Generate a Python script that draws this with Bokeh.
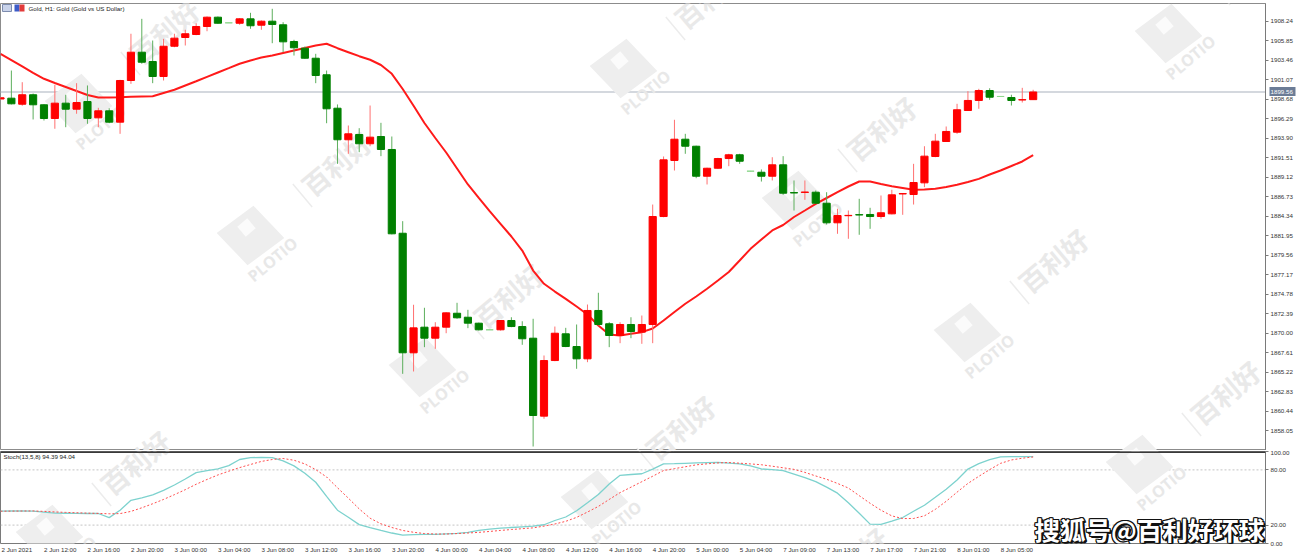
import math
import numpy as np
from bokeh.plotting import figure
from bokeh.layouts import column
from bokeh.models import (ColumnDataSource, FixedTicker, PrintfTickFormatter,
                          Range1d, Span, Label, LinearAxis)
from bokeh.core.properties import value
from bokeh.embed import file_html
from bokeh.resources import INLINE

# ---------------- data (H1 bars, Gold vs US Dollar) ----------------
opens = [1898.70, 1898.80, 1898.06, 1899.22, 1897.99, 1896.31, 1898.19, 1897.45, 1898.39, 1896.39,
         1897.25, 1895.86, 1900.97, 1904.44, 1903.30, 1901.46, 1905.17, 1906.24, 1906.61, 1907.59,
         1908.73, 1908.04, 1907.99, 1908.53, 1907.75, 1908.24, 1907.80, 1905.75, 1904.93, 1903.70,
         1901.67, 1897.57, 1893.70, 1894.35, 1893.21, 1894.10, 1892.51, 1882.24, 1867.58, 1870.72,
         1869.37, 1870.72, 1872.43, 1871.94, 1871.21, 1870.40, 1870.40, 1871.54, 1870.80, 1869.37,
         1859.81, 1866.63, 1869.91, 1868.35, 1866.84, 1872.77, 1871.14, 1869.70, 1871.05, 1870.11,
         1871.05, 1884.29, 1891.16, 1893.77, 1892.91, 1889.23, 1890.21, 1891.40, 1891.86, 1889.85,
         1889.72, 1889.23, 1890.63, 1887.22, 1887.25, 1887.27, 1885.92, 1883.52, 1884.39, 1884.52,
         1884.54, 1884.29, 1884.62, 1887.06, 1886.99, 1888.42, 1891.65, 1893.49, 1894.63, 1897.29,
         1898.52, 1899.74, 1899.01, 1898.88, 1898.58, 1898.62]
highs = [1898.95, 1902.19, 1900.76, 1899.37, 1898.05, 1900.44, 1899.22, 1900.64, 1900.36, 1897.62,
         1897.57, 1901.05, 1906.70, 1908.53, 1905.87, 1906.08, 1906.70, 1907.19, 1907.99, 1908.82,
         1908.82, 1908.06, 1908.61, 1909.27, 1908.33, 1909.76, 1908.12, 1905.96, 1905.14, 1904.24,
         1902.19, 1898.03, 1895.45, 1895.12, 1897.90, 1895.78, 1894.10, 1883.72, 1873.47, 1873.10,
         1871.33, 1872.55, 1873.71, 1872.85, 1871.28, 1870.44, 1871.60, 1871.94, 1871.45, 1871.75,
         1867.25, 1870.80, 1870.64, 1871.05, 1873.50, 1874.94, 1871.33, 1871.33, 1871.94, 1872.15,
         1885.76, 1891.65, 1896.15, 1894.43, 1892.98, 1890.28, 1891.49, 1891.98, 1891.98, 1889.88,
         1890.06, 1891.56, 1891.69, 1888.71, 1888.71, 1887.48, 1887.27, 1885.24, 1885.03, 1886.46,
         1885.36, 1886.87, 1887.57, 1887.15, 1890.75, 1892.91, 1894.43, 1895.33, 1898.11, 1899.66,
         1899.95, 1900.02, 1899.04, 1899.22, 1900.07, 1899.83]
lows = [1898.65, 1898.03, 1897.87, 1896.19, 1896.06, 1895.05, 1895.24, 1896.89, 1895.66, 1895.24,
        1895.73, 1894.43, 1900.56, 1903.02, 1900.64, 1900.97, 1905.05, 1905.26, 1906.52, 1907.01,
        1907.92, 1908.02, 1907.80, 1907.31, 1907.19, 1905.54, 1904.44, 1904.03, 1903.63, 1900.64,
        1895.73, 1890.75, 1891.98, 1892.18, 1892.91, 1891.69, 1882.10, 1865.00, 1865.29, 1868.27,
        1868.07, 1869.98, 1871.75, 1870.60, 1870.31, 1870.38, 1870.31, 1870.72, 1868.56, 1856.09,
        1859.49, 1866.55, 1868.27, 1865.62, 1866.43, 1870.93, 1868.27, 1868.76, 1869.37, 1868.68,
        1868.76, 1884.20, 1889.93, 1891.98, 1888.99, 1888.22, 1890.14, 1890.46, 1890.75, 1889.83,
        1888.58, 1888.71, 1886.95, 1885.03, 1886.34, 1885.85, 1883.31, 1882.17, 1881.56, 1882.05,
        1882.78, 1884.01, 1884.55, 1884.50, 1885.76, 1887.89, 1891.56, 1893.45, 1894.43, 1897.25,
        1897.50, 1898.60, 1898.99, 1897.90, 1898.27, 1898.58]
closes = [1898.85, 1898.11, 1899.22, 1897.99, 1896.31, 1898.19, 1897.45, 1898.27, 1896.31, 1897.25,
          1895.86, 1900.97, 1904.44, 1903.21, 1901.46, 1905.17, 1906.16, 1906.70, 1907.59, 1908.73,
          1907.99, 1908.04, 1908.53, 1907.68, 1908.24, 1907.84, 1905.71, 1904.98, 1903.70, 1901.58,
          1897.50, 1893.70, 1894.43, 1893.21, 1894.02, 1892.51, 1882.17, 1867.58, 1870.64, 1869.37,
          1870.72, 1872.48, 1871.87, 1871.21, 1870.40, 1870.40, 1871.54, 1870.80, 1869.30, 1859.89,
          1866.63, 1869.98, 1868.35, 1866.84, 1872.77, 1871.05, 1869.70, 1871.05, 1870.19, 1871.05,
          1884.29, 1891.24, 1893.77, 1892.91, 1889.23, 1890.21, 1891.40, 1891.86, 1891.07, 1889.85,
          1889.23, 1890.63, 1887.15, 1887.18, 1887.29, 1885.92, 1883.52, 1884.41, 1884.43, 1884.48,
          1884.29, 1884.75, 1886.95, 1887.10, 1888.46, 1891.69, 1893.53, 1894.72, 1897.38, 1898.52,
          1899.74, 1898.92, 1899.01, 1898.52, 1898.62, 1899.56]
ma_values = [1904.24, 1903.47, 1902.69, 1901.91, 1901.18, 1900.66, 1900.17, 1899.68, 1899.19, 1898.88,
             1898.88, 1898.92, 1898.97, 1899.01, 1899.04, 1899.44, 1899.83, 1900.36, 1900.88, 1901.42,
             1901.95, 1902.48, 1903.02, 1903.42, 1903.79, 1904.03, 1904.34, 1904.65, 1904.95, 1905.26,
             1905.47, 1904.93, 1904.44, 1903.95, 1903.51, 1902.87, 1901.79, 1899.93, 1897.88, 1895.76,
             1893.92, 1892.14, 1890.18, 1888.22, 1886.57, 1884.95, 1883.40, 1881.84, 1880.12, 1877.67,
             1876.04, 1875.09, 1874.20, 1873.26, 1872.28, 1870.93, 1869.82, 1869.70, 1869.91, 1870.11,
             1870.56, 1871.54, 1872.58, 1873.59, 1874.48, 1875.43, 1876.44, 1877.49, 1878.90, 1880.33,
             1881.47, 1882.58, 1883.25, 1884.23, 1885.03, 1885.85, 1886.56, 1887.27, 1887.97, 1888.58,
             1888.58, 1888.28, 1888.01, 1887.79, 1887.57, 1887.60, 1887.69, 1887.91, 1888.18, 1888.52,
             1888.91, 1889.44, 1889.93, 1890.48, 1891.04, 1891.83]
stoch_k = [35.1, 35.3, 35.3, 35.1, 34.0, 33.1, 32.9, 32.7, 32.6, 32.6,
           28.1, 36.2, 46.9, 49.6, 52.9, 57.7, 63.6, 70.1, 77.1, 79.3,
           81.2, 84.7, 91.3, 93.3, 93.6, 93.3, 89.8, 84.4, 76.4, 66.6,
           51.3, 36.2, 28.6, 20.5, 17.3, 14.3, 11.4, 9.2, 9.7, 10.0,
           10.0, 10.5, 10.9, 12.2, 14.3, 15.6, 16.7, 17.4, 18.1, 18.8,
           20.4, 25.0, 28.8, 35.6, 44.2, 53.2, 64.7, 74.1, 75.0, 75.8,
           80.9, 86.5, 86.8, 87.2, 87.6, 87.9, 88.2, 87.3, 86.6, 84.3,
           81.0, 80.3, 79.2, 75.4, 71.6, 67.2, 61.3, 54.7, 44.2, 32.9,
           21.1, 20.8, 24.3, 28.2, 35.1, 41.6, 50.2, 59.0, 69.0, 80.9,
           86.9, 91.1, 94.2, 94.4, 94.4, 94.39]
stoch_d = [35.1, 35.2, 35.3, 35.4, 34.9, 34.3, 33.8, 33.4, 33.0, 32.7,
           32.3, 32.5, 34.9, 38.8, 43.2, 47.9, 53.1, 58.5, 64.4, 69.6,
           74.5, 78.6, 82.5, 85.9, 89.2, 91.3, 92.4, 90.5, 86.5, 80.3,
           72.3, 60.6, 49.3, 37.6, 27.5, 21.4, 17.4, 14.2, 12.2, 10.8,
           10.3, 10.3, 10.8, 11.4, 12.1, 13.1, 14.2, 15.2, 16.1, 17.0,
           18.9, 21.2, 24.1, 28.4, 34.2, 40.3, 47.9, 55.3, 61.2, 67.2,
           73.1, 79.3, 81.4, 83.4, 85.5, 86.6, 87.6, 88.0, 87.3, 86.5,
           85.6, 84.0, 82.3, 80.6, 77.3, 73.4, 69.8, 65.3, 60.3, 52.0,
           43.7, 36.2, 30.0, 27.1, 27.2, 30.1, 37.1, 45.9, 55.8, 65.3,
           73.0, 80.3, 87.1, 90.8, 92.7, 94.04]
price_ticks = [1858.05, 1860.44, 1862.83, 1865.22, 1867.61, 1870.00, 1872.39, 1874.78,
               1877.17, 1879.56, 1881.95, 1884.34, 1886.73, 1889.12, 1891.51, 1893.90,
               1896.29, 1898.68, 1901.07, 1903.46, 1905.85, 1908.24]
stoch_ticks = [0, 20, 80, 100]
stoch_levels = [80, 20]
time_tick_bars = list(range(0, 96, 4))
time_tick_labels = ["2 Jun 2021", "2 Jun 12:00", "2 Jun 16:00", "2 Jun 20:00", "3 Jun 00:00",
                    "3 Jun 04:00", "3 Jun 08:00", "3 Jun 12:00", "3 Jun 16:00", "3 Jun 20:00",
                    "4 Jun 00:00", "4 Jun 04:00", "4 Jun 08:00", "4 Jun 12:00", "4 Jun 16:00",
                    "4 Jun 20:00", "5 Jun 00:00", "5 Jun 04:00", "7 Jun 09:00", "7 Jun 13:00",
                    "7 Jun 17:00", "7 Jun 21:00", "8 Jun 01:00", "8 Jun 05:00"]
last_price = 1899.56
title_text = "Gold, H1:  Gold (Gold vs US Dollar)"
stoch_text = "Stoch(13,5,8) 94.39 94.04"
brand_text = "搜狐号@百利好环球"

# ---------------- layout constants ----------------
BAR_PX = 10.87
FRAME_W = 1265
MAIN_H = 450
MAIN_TOP = 3
P_LO, P_HI = 1855.60, 1910.41
ST_H = 107
ST_TOP = 1
ST_BOTTOM = 14
ST_FRAME_H = ST_H - ST_TOP - ST_BOTTOM

AX_FONT = "Liberation Sans"
AX_SIZE = "6.2px"
UP, DN = "#ff0000", "#008000"
UP_WICK, DN_WICK = "#ff7070", "#5cae5c"
DOJI = "#8fd88f"
BOX = "#6b7c96"


def fx(px):
    return px / BAR_PX


def fy_main(py):
    return P_HI - (py - MAIN_TOP) * (P_HI - P_LO) / (MAIN_H - MAIN_TOP)


def fy_st(py):
    return 100 - (py - (MAIN_H + ST_TOP)) * 100.0 / ST_FRAME_H


# watermark lattice (pixel positions of the logo centres)
TH = math.radians(40)
wm_centres = []
for m in range(-3, 4):
    for n in range(-2, 3):
        cx = 250 + m * 172 + n * 545
        cy = 235 + m * 132 - n * 35
        if -160 < cx < 1420 and -160 < cy < 720:
            wm_centres.append((cx, cy))


def rot_poly(cx, cy, side, sy=1.0):
    h = side / 2.0
    out = []
    for dx, dy in [(-h, -h), (h, -h), (h, h), (-h, h)]:
        rx = dx * math.cos(TH) - dy * math.sin(TH)
        ry = dx * math.sin(TH) + dy * math.cos(TH)
        out.append((cx + rx, cy - ry * sy))
    return out


def inside(px, py, y0, y1, r):
    return (-r < px < FRAME_W + r) and (y0 - r < py < y1 + r)


def draw_watermarks(fig, fy, y0, y1):
    xs, ys, xs2, ys2 = [], [], [], []
    tx1, ty1, tx2, ty2 = [], [], [], []
    sx0, sy0, sx1, sy1 = [], [], [], []
    for cx, cy in wm_centres:
        if inside(cx, cy, y0, y1, 45):
            poly = rot_poly(cx, cy, 48, 0.88)
            xs.append([fx(a) for a, b in poly]); ys.append([fy(b) for a, b in poly])
            inner = rot_poly(cx - 4, cy - 8, 13)
            xs2.append([fx(a) for a, b in inner]); ys2.append([fy(b) for a, b in inner])
        if inside(cx + 22, cy + 24, y0, y1, 30):
            tx1.append(fx(cx + 22)); ty1.append(fy(cy + 24))
        if inside(cx + 86, cy - 72, y0, y1, 45):
            tx2.append(fx(cx + 86)); ty2.append(fy(cy - 72))
        mx, my = cx + 52, cy - 40
        if inside(mx, my, y0, y1, 15):
            ux, uy = math.sin(TH) * 15, math.cos(TH) * 15
            sx0.append(fx(mx - ux)); sy0.append(fy(my - uy))
            sx1.append(fx(mx + ux)); sy1.append(fy(my + uy))
    fig.patches(xs, ys, fill_color="#eeeeee", line_color=None)
    fig.patches(xs2, ys2, fill_color="#fbfbfb", line_color=None)
    fig.text(tx1, ty1, text=["PLOTIO"] * len(tx1), angle=TH, text_align="center",
             text_baseline="middle", text_font=value("Open Sans"), text_font_style="bold",
             text_font_size="16px", text_color="#e8e8e8")
    fig.text(tx2, ty2, text=["百利好"] * len(tx2), angle=TH, text_align="center",
             text_baseline="middle", text_font=value("Noto Sans CJK SC"), text_font_style="bold",
             text_font_size="27px", text_color="#e9e9e9")
    fig.segment(sx0, sy0, sx1, sy1, line_color="#ececec", line_width=1.5)


def style_axis(ax):
    ax.major_label_text_font = AX_FONT
    ax.major_label_text_font_size = AX_SIZE
    ax.major_label_text_color = "#333333"
    ax.minor_tick_line_color = None


xr = Range1d(0, FRAME_W / BAR_PX)

# ---------------- main price panel ----------------
p = figure(width=1304, height=MAIN_H, x_range=xr, y_range=Range1d(P_LO, P_HI),
           x_axis_location=None, y_axis_location="right", output_backend="svg",
           toolbar_location=None, min_border_left=0, min_border_right=1304 - FRAME_W,
           min_border_top=MAIN_TOP, min_border_bottom=0)
p.grid.visible = False
p.outline_line_color = "#8c8c8c"
p.border_fill_color = "white"

draw_watermarks(p, fy_main, MAIN_TOP, MAIN_H)

p.add_layout(Span(location=last_price, dimension="width", line_color="#c6cbd3",
                  line_width=1.5, level="underlay"))

idx = np.arange(len(opens))
o = np.array(opens); c = np.array(closes)
up = c > o
doji = c == o
body_col = np.where(doji, DOJI, np.where(up, UP, DN)).tolist()
wick_col = np.where(doji, DOJI, np.where(up, UP_WICK, DN_WICK)).tolist()
src = ColumnDataSource(dict(x=idx, h=highs, l=lows, top=np.maximum(o, c), bottom=np.minimum(o, c),
                            bc=body_col, wc=wick_col))
p.line(idx, ma_values, line_color="#ff1a1a", line_width=2)
p.segment("x", "h", "x", "l", source=src, line_color="wc", line_width=1)
p.vbar(x="x", width=0.66, top="top", bottom="bottom", source=src,
       fill_color="bc", line_color="bc", line_width=1)

# title + icons
p.quad(left=[fx(2)], right=[fx(11)], top=[fy_main(4)], bottom=[fy_main(11)],
       fill_color="#c9d3ea", line_color="#7d8cae", line_width=1)
p.quad(left=[fx(14)], right=[fx(19)], top=[fy_main(4)], bottom=[fy_main(11)],
       fill_color="#3d5cc8", line_color=None)
p.quad(left=[fx(19)], right=[fx(24)], top=[fy_main(4)], bottom=[fy_main(11)],
       fill_color="#e23a3a", line_color=None)
p.text([fx(28)], [fy_main(7.5)], text=[title_text], text_align="left", text_baseline="middle",
       text_font=value(AX_FONT), text_font_size=AX_SIZE, text_color="#222222")

ya = p.yaxis[0]
ya.ticker = FixedTicker(ticks=price_ticks)
ya.formatter = PrintfTickFormatter(format="%.2f")
style_axis(ya)
ya.axis_line_color = "#7a7a7a"
ya.major_tick_line_color = "#7a7a7a"
ya.major_tick_out = 3
ya.major_tick_in = 0
ya.major_label_standoff = 2

# current-price marker on the price scale (second axis, ticks drawn back over the first)
box_axis = LinearAxis(ticker=FixedTicker(ticks=[last_price]),
                      formatter=PrintfTickFormatter(format="%.2f"))
style_axis(box_axis)
box_axis.major_label_text_color = "white"
box_axis.axis_line_color = None
box_axis.major_tick_line_color = BOX
box_axis.major_tick_line_width = 9
box_axis.major_tick_in = 26
box_axis.major_tick_out = 0
box_axis.major_label_standoff = -25
p.add_layout(box_axis, "right")

# ---------------- stochastic panel ----------------
p2 = figure(width=1304, height=ST_H, x_range=xr, y_range=Range1d(0, 100),
            x_axis_location="below", y_axis_location="right", output_backend="svg",
            toolbar_location=None, min_border_left=0, min_border_right=1304 - FRAME_W,
            min_border_top=ST_TOP, min_border_bottom=ST_BOTTOM)
p2.grid.visible = False
p2.outline_line_color = "#7a7a7a"
p2.border_fill_color = "white"

draw_watermarks(p2, fy_st, MAIN_H + ST_TOP, MAIN_H + ST_TOP + ST_FRAME_H)

for lv in stoch_levels:
    p2.add_layout(Span(location=lv, dimension="width", line_color="#c4c4c4",
                       line_width=1, line_dash="2 2", level="underlay"))
p2.add_layout(Span(location=100, dimension="width", line_color="#3a3a3a", line_width=3))

p2.line(idx, stoch_k, line_color="#7dd2ce", line_width=1.3)
p2.line(idx, stoch_d, line_color="#ff4d4d", line_width=1, line_dash="2 2")

p2.text([fx(3)], [fy_st(456)], text=[stoch_text], text_align="left", text_baseline="middle",
        text_font=value(AX_FONT), text_font_size=AX_SIZE, text_color="#222222")

ya2 = p2.yaxis[0]
ya2.ticker = FixedTicker(ticks=stoch_ticks)
ya2.formatter = PrintfTickFormatter(format="%.2f")
style_axis(ya2)
ya2.axis_line_color = "#7a7a7a"
ya2.major_tick_line_color = "#7a7a7a"
ya2.major_tick_out = 3
ya2.major_tick_in = 0
ya2.major_label_standoff = 2

xa = p2.xaxis[0]
label_pos = [b + 1.5 for b in time_tick_bars]
xa.ticker = FixedTicker(ticks=label_pos)
xa.major_label_overrides = {pos: lab for pos, lab in zip(label_pos, time_tick_labels)}
style_axis(xa)
xa.axis_line_color = None
xa.major_tick_line_color = None
xa.major_tick_out = 0
xa.major_tick_in = 0
xa.major_label_standoff = 2

# brand caption (white text with dark outline)
bx, by = 1034, ST_FRAME_H - (528 - (MAIN_H + ST_TOP))
for dx, dy in [(-1, 0), (1, 0), (0, 1), (0, -1), (1, -1), (2, -2), (2, -1), (1, -2), (-1, 1), (-1, -1), (1, 1)]:
    p2.add_layout(Label(x=bx + dx, y=by + dy, x_units="screen", y_units="screen", text=brand_text,
                        text_font="Noto Sans CJK SC", text_font_style="bold", text_font_size="25.5px",
                        text_color="#111111", text_baseline="middle", text_align="left"))
p2.add_layout(Label(x=bx, y=by, x_units="screen", y_units="screen", text=brand_text,
                    text_font="Noto Sans CJK SC", text_font_style="bold", text_font_size="25.5px",
                    text_color="white", text_baseline="middle", text_align="left"))

layout = column(p, p2, spacing=0)
open("out.html", "w").write(file_html(layout, INLINE))
